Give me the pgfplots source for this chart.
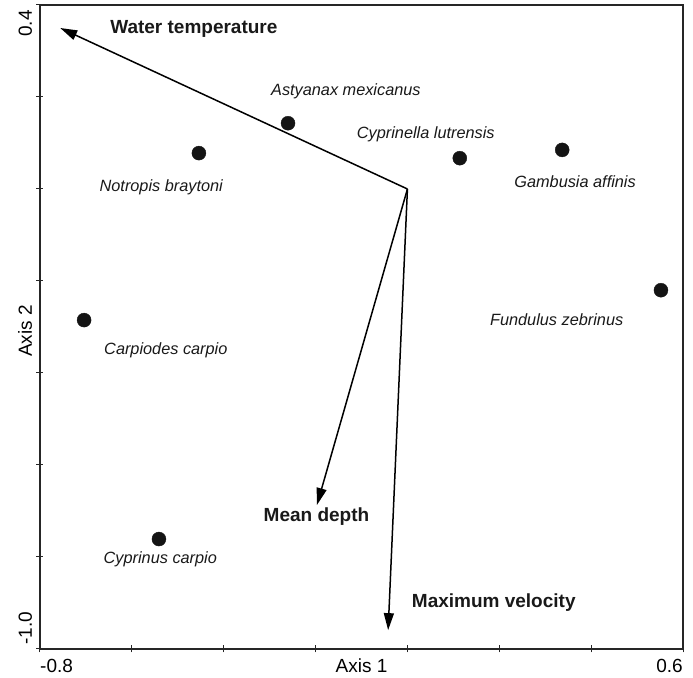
\documentclass[border=0pt]{standalone}
\usepackage{pgfplots}
\pgfplotsset{compat=1.18}
\usepackage{fontspec}
\setmainfont{Liberation Sans}
\usetikzlibrary{arrows.meta}
\tikzset{
  species/.style={font=\fontsize{16.3}{19}\selectfont\itshape, text=black!90, inner sep=0pt},
  vec/.style={font=\fontsize{19}{22}\selectfont\bfseries, text=black!90, inner sep=0pt},
  lab/.style={font=\fontsize{19}{22}\selectfont, inner sep=0pt},
}
\begin{document}
\begin{tikzpicture}
\begin{axis}[
  scale only axis, width=643pt, height=644pt,
  xmin=-0.8, xmax=0.6, ymin=-1.0, ymax=0.4,
  xtick={-0.8,-0.6,-0.4,-0.2,0,0.2,0.4,0.6},
  ytick={-1.0,-0.8,-0.6,-0.4,-0.2,0,0.2,0.4},
  xticklabels={}, yticklabels={},
  xtick pos=bottom, ytick pos=left,
  tick align=center, major tick length=7pt,
  every tick/.style={black!85, line width=1pt},
  axis line style={black!85, line width=1.3pt},
  clip=false,
]
% species scores
\addplot[only marks, mark=*, mark size=7pt, black!92] coordinates {
  (-0.454, 0.078)
  (-0.260, 0.143)
  (0.114, 0.067)
  (0.337, 0.085)
  (0.552, -0.220)
  (-0.704, -0.285)
  (-0.541, -0.761)
};
% environmental vectors
\addplot[black, line width=1.5pt, -{Triangle[length=17pt,width=10pt]}] coordinates {(0,0) (-0.756,0.350)};
\addplot[black, line width=1.5pt, -{Triangle[length=17pt,width=10pt]}] coordinates {(0,0) (-0.197,-0.687)};
\addplot[black, line width=1.5pt, -{Triangle[length=17pt,width=10pt]}] coordinates {(0,0) (-0.042,-0.959)};

\node[vec] at (axis cs:-0.465,0.347) {Water temperature};
\node[vec] at (axis cs:-0.198,-0.713) {Mean depth};
\node[vec] at (axis cs:0.188,-0.900) {Maximum velocity};

\node[species] at (axis cs:-0.134,0.213) {Astyanax mexicanus};
\node[species] at (axis cs:0.040,0.120) {Cyprinella lutrensis};
\node[species] at (axis cs:0.365,0.015) {Gambusia affinis};
\node[species] at (axis cs:-0.536,0.003) {Notropis braytoni};
\node[species] at (axis cs:0.325,-0.285) {Fundulus zebrinus};
\node[species] at (axis cs:-0.526,-0.350) {Carpiodes carpio};
\node[species] at (axis cs:-0.538,-0.804) {Cyprinus carpio};

% tick labels and axis titles
\node[lab, anchor=base west] at ([yshift=-24pt]rel axis cs:0,0) {-0.8};
\node[lab, anchor=base east] at ([yshift=-24pt]rel axis cs:1,0) {0.6};
\node[lab, anchor=base] at ([yshift=-24pt]rel axis cs:0.5,0) {Axis 1};
\node[lab, rotate=90, anchor=base east] at ([xshift=-8pt,yshift=-5pt]rel axis cs:0,1) {0.4};
\node[lab, rotate=90, anchor=base west] at ([xshift=-8pt,yshift=4pt]rel axis cs:0,0) {-1.0};
\node[lab, rotate=90, anchor=base] at ([xshift=-8pt,yshift=-4pt]rel axis cs:0,0.5) {Axis 2};
\end{axis}
\path (current axis.south west) ++(-40pt,-29pt);
\path (current axis.north east) ++(10pt,5pt);
\end{tikzpicture}
\end{document}
